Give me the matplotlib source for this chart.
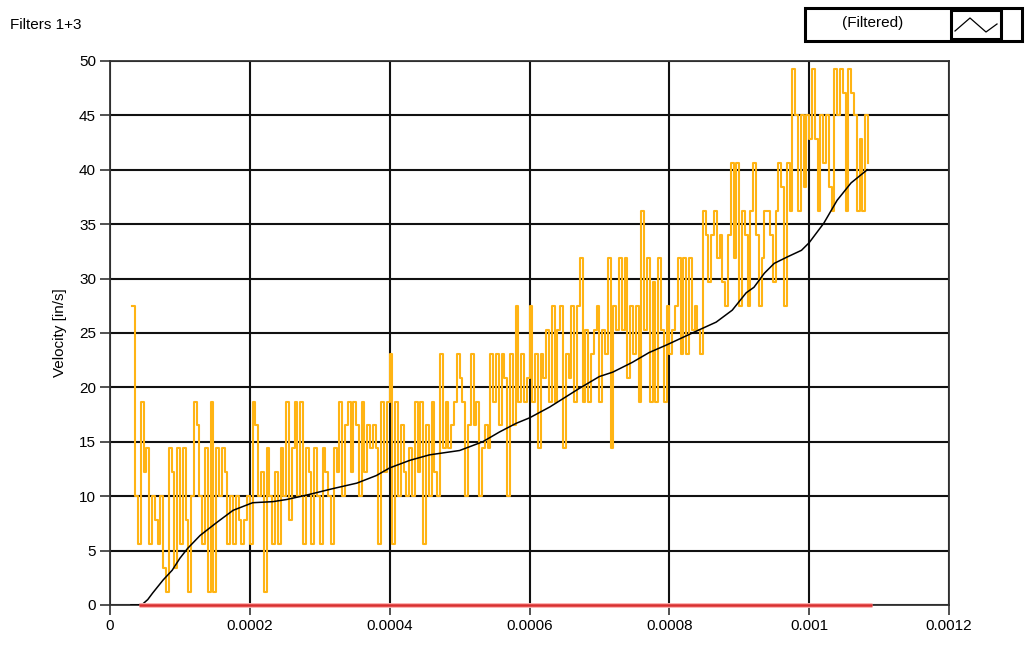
import numpy as np
import matplotlib
matplotlib.use("Agg")
import matplotlib.pyplot as plt
from matplotlib.patches import Rectangle
from matplotlib.lines import Line2D

plt.rcParams['font.family'] = ['Liberation Sans', 'DejaVu Sans']

# raw (quantized) velocity, sampled every dt from t0
raw_t0 = 3.2e-5
raw_dt = 4e-6
raw_v = [
    27.5, 10.0, 5.6, 18.7, 12.2, 14.4, 5.6, 10.0, 7.8, 5.6,
    10.0, 3.4, 1.2, 14.4, 12.2, 3.4, 14.4, 5.6, 14.4, 7.8,
    1.2, 10.0, 18.7, 16.5, 10.0, 5.6, 14.4, 1.2, 18.7, 1.2,
    14.4, 10.0, 14.4, 12.2, 5.6, 10.0, 5.6, 10.0, 7.8, 5.6,
    7.8, 10.0, 5.6, 18.7, 16.5, 10.0, 12.2, 1.2, 14.4, 10.0,
    5.6, 12.2, 5.6, 14.4, 10.0, 18.7, 7.8, 14.4, 18.7, 10.0,
    18.7, 5.6, 14.4, 12.2, 5.6, 14.4, 10.0, 5.6, 14.4, 12.2,
    10.0, 5.6, 14.4, 12.2, 18.7, 10.0, 16.5, 18.7, 12.2, 18.7,
    16.5, 10.0, 18.7, 12.2, 16.5, 14.4, 16.5, 14.4, 5.6, 18.7,
    12.2, 18.7, 23.1, 5.6, 18.7, 10.0, 16.5, 12.2, 10.0, 14.4,
    10.0, 18.7, 12.2, 18.7, 5.6, 16.5, 10.0, 18.7, 12.2, 10.0,
    23.1, 14.4, 18.7, 14.4, 16.5, 18.7, 23.1, 20.9, 18.7, 10.0,
    16.5, 23.1, 16.5, 18.7, 10.0, 14.4, 16.5, 14.4, 23.1, 18.7,
    23.1, 16.5, 23.1, 20.9, 10.0, 23.1, 16.5, 27.5, 18.7, 23.1,
    18.7, 20.9, 27.5, 18.7, 23.1, 14.4, 23.1, 20.9, 25.3, 18.7,
    27.5, 18.7, 25.3, 27.5, 14.4, 23.1, 20.9, 27.5, 18.7, 27.5,
    31.9, 18.7, 25.3, 18.7, 23.1, 25.3, 27.5, 18.7, 25.3, 23.1,
    31.9, 14.4, 27.5, 25.3, 31.9, 25.3, 31.9, 20.9, 27.5, 23.1,
    27.5, 18.7, 36.2, 25.3, 31.9, 18.7, 29.7, 18.7, 31.9, 25.3,
    18.7, 27.5, 23.1, 25.3, 27.5, 31.9, 23.1, 31.9, 23.1, 31.9,
    25.3, 27.5, 25.3, 23.1, 36.2, 34.0, 29.7, 34.0, 36.2, 31.9,
    34.0, 29.7, 27.5, 34.0, 40.6, 31.9, 40.6, 27.5, 36.2, 34.0,
    27.5, 36.2, 40.6, 34.0, 27.5, 31.9, 36.2, 36.2, 34.0, 29.7,
    36.2, 40.6, 38.4, 27.5, 40.6, 36.2, 49.3, 45.0, 36.2, 45.0,
    38.4, 45.0, 42.8, 49.3, 42.8, 36.2, 45.0, 40.6, 45.0, 38.4,
    36.2, 49.3, 45.0, 49.3, 47.1, 36.2, 49.3, 47.1, 45.0, 36.2,
    42.8, 36.2, 45.0, 40.6,
]

# filtered velocity
filt_t = [3.0e-5, 4.0e-5, 4.7e-5, 5.4e-5, 6.1e-5, 7.6e-5, 8.9e-5, 1.0e-4, 1.11e-4, 1.29e-4,
          1.53e-4, 1.76e-4, 1.96e-4, 2.04e-4, 2.33e-4, 2.53e-4, 2.81e-4, 3.19e-4,
          3.53e-4, 3.81e-4, 4.0e-4, 4.29e-4, 4.57e-4, 5.0e-4, 5.33e-4, 5.57e-4,
          5.81e-4, 6.0e-4, 6.29e-4, 6.71e-4, 7.0e-4, 7.19e-4, 7.47e-4, 7.71e-4,
          7.96e-4, 8.43e-4, 8.67e-4, 8.9e-4, 9.1e-4, 9.21e-4, 9.36e-4, 9.5e-4,
          9.69e-4, 9.89e-4, 1.0e-3, 1.021e-3, 1.04e-3, 1.06e-3, 1.083e-3]
filt_v = [0.0, 0.0, 0.1, 0.5, 1.1, 2.3, 3.2, 4.3, 5.2, 6.4,
          7.6, 8.7, 9.2, 9.4, 9.5, 9.7, 10.1, 10.7,
          11.2, 11.9, 12.6, 13.3, 13.8, 14.2, 15.0, 15.9,
          16.7, 17.2, 18.2, 19.9, 21.0, 21.4, 22.3, 23.2,
          23.9, 25.3, 26.0, 27.1, 28.7, 29.2, 30.5, 31.4,
          32.0, 32.6, 33.3, 35.1, 37.2, 38.8, 40.0]

# third plot (flat at zero)
zero_t = [4.2e-5, 1.09e-3]
zero_v = [0.0, 0.0]

xticks = [0, 0.0002, 0.0004, 0.0006, 0.0008, 0.001, 0.0012]
xtick_labels = ['0', '0.0002', '0.0004', '0.0006', '0.0008', '0.001', '0.0012']
yticks = [0, 5, 10, 15, 20, 25, 30, 35, 40, 45, 50]

W, H = 1026, 645
fig = plt.figure(figsize=(W / 100, H / 100), dpi=100)
ax = fig.add_axes([110 / W, 40 / H, 839 / W, 544 / H])

raw_t = raw_t0 + raw_dt * np.arange(len(raw_v))
ax.step(raw_t, raw_v, where='post', color='#FFB414', lw=1.5, zorder=3)
ax.plot(filt_t, filt_v, color='black', lw=1.1, zorder=4)
ax.plot(zero_t, zero_v, color='#ffb0b0', lw=3.5, zorder=5, clip_on=False, solid_capstyle='butt')
ax.plot(zero_t, zero_v, color='#d83030', lw=1.8, zorder=6, clip_on=False, solid_capstyle='butt')

ax.set_xlim(0, 0.0012)
ax.set_ylim(0, 50)
ax.set_xticks(xticks)
ax.set_xticklabels(xtick_labels)
ax.set_yticks(yticks)
ax.grid(True, color='#111111', lw=1.5)
ax.set_axisbelow(True)
for s in ax.spines.values():
    s.set_color('#333333')
    s.set_linewidth(1.3)
ax.tick_params(direction='out', length=7, width=1.2, color='#333333', labelsize=11, pad=3)
ax.set_ylabel('Velocity [in/s]', fontsize=11, labelpad=9)

fig.text(10 / W, 1 - 25 / H, 'Filters 1+3', fontsize=11, va='center', ha='left')

# legend box drawn in figure pixels
def fx(x):
    return x / W

def fy(y):
    return 1 - y / H

fig.add_artist(Rectangle((fx(805), fy(41)), fx(1022) - fx(805), fy(8) - fy(41),
                         transform=fig.transFigure, facecolor='white', edgecolor='black', lw=2.2))
fig.add_artist(Rectangle((fx(951), fy(39)), fx(1001) - fx(951), fy(10) - fy(39),
                         transform=fig.transFigure, facecolor='white', edgecolor='black', lw=2.2))
fig.text(fx(873), fy(23), '(Filtered)', fontsize=11, ha='center', va='center')
fig.add_artist(Line2D([fx(955), fx(970), fx(986), fx(997)], [fy(31), fy(18), fy(32), fy(24)],
                      transform=fig.transFigure, color='black', lw=0.9))

fig.savefig('out.png', dpi=100)
